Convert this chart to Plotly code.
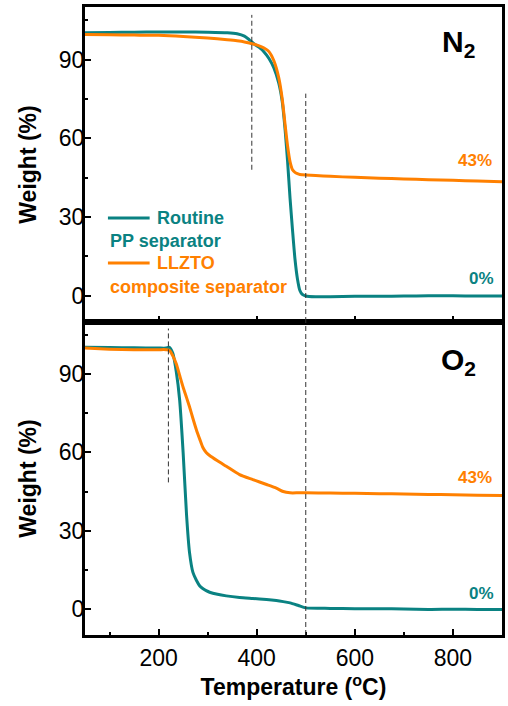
import plotly.graph_objects as go
from plotly.subplots import make_subplots

# ---------------- data ----------------
temp_n2 = [50, 100, 150, 200, 250, 300, 340, 360, 375, 385, 395, 405, 415, 425, 435, 445,
           452, 458, 463, 468, 473, 478, 483, 488, 493, 500, 520, 550, 600, 650, 700, 750,
           800, 850, 900]
pp_n2 = [100.2, 100.3, 100.4, 100.5, 100.5, 100.4, 100.2, 99.8, 98.9, 97.5, 95.9, 94.6,
         92.9, 90.4, 86.8, 81.0, 74.0, 63.0, 51.0, 37.0, 25.0, 14.0, 6.5, 2.0, 0.5, -0.1,
         -0.4, -0.4, -0.2, -0.2, -0.1, 0.0, 0.0, -0.1, -0.1]
llzto_n2 = [99.5, 99.4, 99.3, 99.2, 98.8, 98.2, 97.5, 97.1, 96.7, 96.3, 95.8, 95.2, 94.4,
            93.0, 89.5, 83.0, 75.0, 65.0, 57.0, 51.0, 48.0, 47.0, 46.5, 46.2, 46.1, 46.0,
            45.8, 45.5, 45.1, 44.8, 44.5, 44.2, 44.0, 43.7, 43.4]

temp_o2 = [50, 100, 150, 200, 215, 222, 229, 236, 243, 250, 257, 263, 270, 277, 284, 290,
           297, 304, 320, 338, 365, 392, 420, 440, 454, 468, 485, 500, 550, 600, 650, 700,
           750, 800, 850, 900]
pp_o2 = [100.3, 100.2, 100.1, 100.0, 100.0, 100.3, 98.0, 91.0, 80.0, 60.0, 36.0, 21.7,
         14.0, 11.0, 8.8, 7.8, 7.0, 6.4, 5.6, 5.0, 4.4, 4.0, 3.6, 3.2, 2.8, 2.3, 1.3, 0.4,
         0.2, 0.1, 0.1, 0.0, -0.2, -0.1, -0.2, -0.2]
llzto_o2 = [100.0, 99.6, 99.4, 99.4, 99.4, 99.2, 97.0, 94.0, 89.5, 85.0, 81.0, 77.5, 73.0,
            68.7, 65.0, 62.0, 60.0, 58.8, 56.8, 54.7, 51.5, 49.6, 47.7, 46.3, 45.0, 44.5,
            44.5, 44.5, 44.4, 44.3, 44.2, 44.1, 43.9, 43.8, 43.6, 43.5]

onset_n2 = [390, 500]
onset_o2 = [220, 500]
residue_labels = ["43%", "0%"]
atmospheres = ["N<sub>2</sub>", "O<sub>2</sub>"]
series_names = ["Routine PP separator", "LLZTO composite separator"]

TEAL = "#0A8282"
ORANGE = "#FF8000"
FONT = "Liberation Sans, Arial, sans-serif"

fig = make_subplots(rows=2, cols=1, shared_xaxes=True, vertical_spacing=0.0)

for row, (t, pp, ll) in enumerate([(temp_n2, pp_n2, llzto_n2), (temp_o2, pp_o2, llzto_o2)], start=1):
    fig.add_trace(go.Scatter(x=t, y=pp, mode="lines", name=series_names[0],
                             line=dict(color=TEAL, width=3, shape="spline", smoothing=0.6),
                             showlegend=False), row=row, col=1)
    fig.add_trace(go.Scatter(x=t, y=ll, mode="lines", name=series_names[1],
                             line=dict(color=ORANGE, width=3, shape="spline", smoothing=0.6),
                             showlegend=False), row=row, col=1)

# domains
split = 0.4984
fig.update_layout(
    width=508, height=706,
    margin=dict(l=85, r=3, t=7, b=71),
    paper_bgcolor="white", plot_bgcolor="white",
    font=dict(family=FONT, color="black", size=23),
)
fig.layout.yaxis.domain = [split, 1]
fig.layout.yaxis2.domain = [0, split]

axis_common = dict(showline=True, linecolor="black", linewidth=3, mirror=True,
                   showgrid=False, zeroline=False, ticks="inside", tickwidth=2,
                   tickcolor="black", tickfont=dict(family=FONT, size=23, color="black"))

for ax in ["xaxis", "xaxis2"]:
    fig.layout[ax].update(range=[50, 900], tick0=0, dtick=200, ticklen=6,
                          minor=dict(ticks="inside", dtick=100, tick0=0, ticklen=3,
                                     tickwidth=2, tickcolor="black"),
                          **axis_common)
fig.layout.xaxis.showticklabels = False
fig.layout.xaxis2.title = dict(text="<b>Temperature (<sup>o</sup>C)</b>",
                               font=dict(family=FONT, size=23), standoff=3)

for ax in ["yaxis", "yaxis2"]:
    fig.layout[ax].update(range=[-10, 110], tick0=0, dtick=30, ticklen=6,
                          ticklabelstandoff=-7,
                          minor=dict(ticks="inside", dtick=15, tick0=0, ticklen=3,
                                     tickwidth=2, tickcolor="black"),
                          title=dict(text="<b>Weight (%)</b>", font=dict(family=FONT, size=23),
                                     standoff=16),
                          **axis_common)

# dashed onset lines
dash_line = dict(color="#333333", width=1, dash="5px,3px")
fig.add_shape(type="line", xref="x", yref="y", x0=onset_n2[0], x1=onset_n2[0], y0=48, y1=107, line=dash_line)
fig.add_shape(type="line", xref="x", yref="y", x0=onset_n2[1], x1=onset_n2[1], y0=-10, y1=77, line=dash_line)
fig.add_shape(type="line", xref="x2", yref="y2", x0=onset_o2[0], x1=onset_o2[0], y0=48.5, y1=107.5, line=dash_line)
fig.add_shape(type="line", xref="x2", yref="y2", x0=onset_o2[1], x1=onset_o2[1], y0=-10, y1=110, line=dash_line)

# atmosphere labels
fig.add_annotation(x=812, y=96, xref="x", yref="y", text="<b>" + atmospheres[0] + "</b>",
                   showarrow=False, font=dict(family=FONT, size=30, color="black"))
fig.add_annotation(x=812, y=95, xref="x2", yref="y2", text="<b>" + atmospheres[1] + "</b>",
                   showarrow=False, font=dict(family=FONT, size=30, color="black"))

# residue labels
for xr, yr, y_pos_o, y_pos_t in [("x", "y", 51.5, 6.5), ("x2", "y2", 50.5, 6.0)]:
    fig.add_annotation(x=845, y=y_pos_o, xref=xr, yref=yr, text="<b>" + residue_labels[0] + "</b>",
                       showarrow=False, font=dict(family=FONT, size=17, color=ORANGE))
    fig.add_annotation(x=858, y=y_pos_t, xref=xr, yref=yr, text="<b>" + residue_labels[1] + "</b>",
                       showarrow=False, font=dict(family=FONT, size=17, color=TEAL))

# custom legend
fig.add_shape(type="line", xref="x domain", yref="y domain", x0=0.055, x1=0.155, y0=0.330, y1=0.330,
              line=dict(color=TEAL, width=3))
fig.add_shape(type="line", xref="x domain", yref="y domain", x0=0.055, x1=0.155, y0=0.187, y1=0.187,
              line=dict(color=ORANGE, width=3))
leg = [(0.167, 0.330, "Routine", TEAL), (0.055, 0.258, "PP separator", TEAL),
       (0.167, 0.187, "LLZTO", ORANGE), (0.055, 0.111, "composite separator", ORANGE)]
for xx, yy, txt, col in leg:
    fig.add_annotation(x=xx, y=yy, xref="x domain", yref="y domain", text="<b>" + txt + "</b>",
                       showarrow=False, xanchor="left", yanchor="middle",
                       font=dict(family=FONT, size=18, color=col))

fig.write_html("out.html")
